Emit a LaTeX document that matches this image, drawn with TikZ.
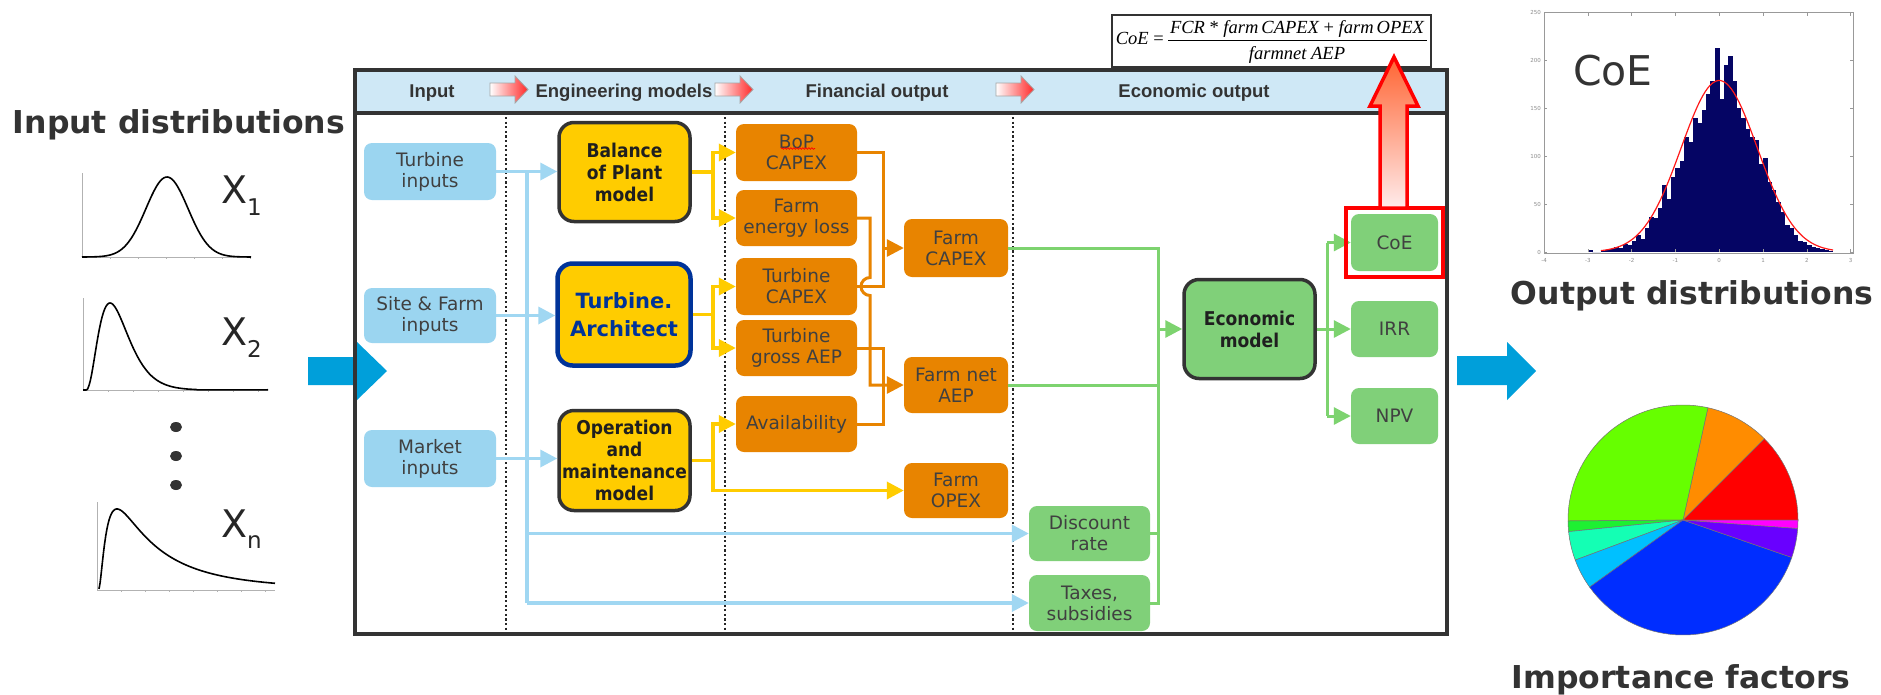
\documentclass[tikz,border=0pt]{standalone}
\usepackage{fontspec}
\setmainfont{DejaVu Sans}
\newfontfamily\modf{DejaVu Sans}[FakeStretch=0.9]
\newfontfamily\hdrf{Liberation Sans}
\newfontfamily\tms{Liberation Serif}
\usetikzlibrary{arrows.meta,calc,decorations.pathmorphing}
\definecolor{lbl}{RGB}{155,213,240}
\definecolor{lblL}{RGB}{160,215,242}
\definecolor{hdr}{RGB}{207,232,246}
\definecolor{yel}{RGB}{255,204,0}
\definecolor{org}{RGB}{232,132,0}
\definecolor{grn}{RGB}{128,208,121}
\definecolor{grnL}{RGB}{125,211,111}
\definecolor{navyb}{RGB}{0,51,153}
\definecolor{bigblue}{RGB}{0,159,218}
\definecolor{dgray}{RGB}{51,51,51}
\definecolor{txt}{RGB}{64,64,64}
\definecolor{histc}{RGB}{5,5,100}
\begin{document}
\begin{tikzpicture}[x=1pt,y=-1pt,
  tip/.tip={Triangle[length=17pt,width=17pt]},
  ibox/.style={fill=lbl, rounded corners=8pt, minimum width=132pt, minimum height=57pt, inner sep=0pt, align=center, text=txt, font=\fontsize{18.5}{21}\selectfont},
  mbox/.style={fill=yel, draw=dgray, line width=3.5pt, rounded corners=15pt, minimum width=131pt, minimum height=99pt, inner sep=0pt, align=center, text=black!88, font=\modf\bfseries\fontsize{19}{22}\selectfont},
  obox/.style={fill=org, rounded corners=8pt, minimum width=121pt, minimum height=56pt, inner sep=0pt, align=center, text=txt, font=\fontsize{18.5}{21}\selectfont},
  gbox/.style={fill=grn, rounded corners=8pt, minimum width=121pt, minimum height=56pt, inner sep=0pt, align=center, text=txt, font=\fontsize{18.5}{21}\selectfont},
  bl/.style={draw=lblL, line width=3.5pt},
  yl/.style={draw=yel, line width=3.5pt},
  ol/.style={draw=org, line width=3pt},
  gl/.style={draw=grnL, line width=3pt},
  dotline/.style={black!85, line width=2.2pt, dash pattern=on 2.2pt off 2.4pt},
  hdrtxt/.style={anchor=base, inner sep=0pt, text=dgray, font=\hdrf\bfseries\fontsize{18.5}{20}\selectfont},
  bigtxt/.style={anchor=base, inner sep=0pt, text=dgray, font=\bfseries\fontsize{31.5}{34}\selectfont},
  hdrarrow/.style={draw=gray!70, line width=0.8pt, left color=white, right color={rgb,255:red,255;green,40;blue,40}},
  curve/.style={black, line width=1.6pt},
  axis/.style={gray!60, line width=1pt}
]
\fill[white] (0,0) rectangle (1881,694);
\useasboundingbox (0,0) rectangle (1881,694);

% ---------- left: input distributions ----------
\node[bigtxt] (indist) at (179,133) {Input distributions};
\draw[axis] (82,173) -- (82,257) -- (251,257);
\foreach \t in {110,138,166,194,222,250} \draw[axis,line width=0.6pt] (\t,257) -- (\t,259);
\draw[curve] plot[domain=82:251, samples=100] ({\x},{257-80*exp(-((\x-167)^2)/882)});
\node[anchor=base west, inner sep=0pt, text=black!85] (x1) at (221,203) {\fontsize{38}{38}\selectfont X\raisebox{-12pt}{\fontsize{23}{23}\selectfont 1}};

\draw[axis] (83,298) -- (83,390) -- (268,390);
\foreach \t in {108,133,158,183,208,233,258} \draw[axis,line width=0.6pt] (\t,390) -- (\t,392);
\draw[curve] (83,390) -- (86.5,390) plot[domain=0.5:182, samples=140] ({86+\x},{390-87*((\x/24)^2.5)*exp(-(\x-24)/9.6)});
\node[anchor=base west, inner sep=0pt, text=black!85] (x2) at (221,345) {\fontsize{38}{38}\selectfont X\raisebox{-12pt}{\fontsize{23}{23}\selectfont 2}};

\fill[dgray] (176,427) ellipse [x radius=6, y radius=5];
\fill[dgray] (176,456) ellipse [x radius=6, y radius=5];
\fill[dgray] (176,485) ellipse [x radius=6, y radius=5];

\draw[axis] (97,502) -- (97,590) -- (275,590);
\foreach \t in {121,145,169,193,217,241,265} \draw[axis,line width=0.6pt] (\t,590) -- (\t,592);
\draw[curve] plot[domain=1:177, samples=160] ({98+\x},{590-81*19/\x*exp(0.5-((ln(\x)-3.944)^2)/2)});
\node[anchor=base west, inner sep=0pt, text=black!85] (xn) at (221,537) {\fontsize{38}{38}\selectfont X\raisebox{-11pt}{\fontsize{23}{23}\selectfont n}};

% big blue arrows
\fill[bigblue] (308,357) -- (357,357) -- (357,342) -- (387,371) -- (357,400) -- (357,385) -- (308,385) -- cycle;
\fill[bigblue] (1457,356) -- (1507,356) -- (1507,342) -- (1536,371) -- (1507,400) -- (1507,385) -- (1457,385) -- cycle;

% ---------- frame and header ----------
\fill[hdr] (355,70) rectangle (1447,113);
\draw[dgray, line width=3.5pt] (355,70) rectangle (1447,634);
\draw[dgray, line width=3.5pt] (355,113) -- (1447,113);
\node[hdrtxt] (hin) at (432,97) {Input};
\node[hdrtxt] (heng) at (624,97) {Engineering models};
\node[hdrtxt] (hfin) at (877,97) {Financial output};
\node[hdrtxt] (heco) at (1194,97) {Economic output};
\foreach \x in {490,715,996}
  \draw[hdrarrow] (\x,83) -- (\x+25,83) -- (\x+25,76) -- (\x+38,89.5) -- (\x+25,103) -- (\x+25,96) -- (\x,96) -- cycle;

\draw[dotline] (506,117) -- (506,632);
\draw[dotline] (725,117) -- (725,632);
\draw[dotline] (1013,117) -- (1013,632);

% ---------- boxes ----------
\node[ibox] (tin) at (430,171.5) {Turbine\\inputs};
\node[ibox, minimum height=55pt] (sfin) at (430,315.5) {Site \& Farm\\inputs};
\node[ibox] (min) at (430,458.5) {Market\\inputs};

\node[mbox] (bop) at (624.5,172) {Balance\\of Plant\\model};
\node[mbox, draw=navyb, line width=4.5pt, minimum width=133pt, minimum height=102pt, text=navyb, font=\bfseries\fontsize{21}{28}\selectfont] (ta) at (624,314.5) {Turbine.\\Architect};
\node[mbox, minimum height=100pt] (om) at (624.5,460.5) {Operation\\and\\maintenance\\model};

\node[obox, minimum height=57pt] (bopc) at (796.5,152.5) {BoP\\CAPEX};
\node[obox] (fel) at (796.5,218) {Farm\\energy loss};
\node[obox, minimum height=57pt] (tc) at (796.5,286.5) {Turbine\\CAPEX};
\node[obox] (tg) at (796.5,348) {Turbine\\gross AEP};
\node[obox] (av) at (796.5,424) {Availability};
\node[obox, minimum width=104pt, minimum height=58pt] (fc) at (956,248) {Farm\\CAPEX};
\node[obox, minimum width=104pt] (fn) at (956,385) {Farm net\\AEP};
\node[obox, minimum width=104pt, minimum height=55pt] (fo) at (956,490.5) {Farm\\OPEX};
\draw[red, line width=0.7pt, decorate, decoration={snake, amplitude=0.8pt, segment length=3pt}] (781,148.5) -- (815,148.5);

\node[gbox, minimum height=55pt] (dr) at (1089.5,533.5) {Discount\\rate};
\node[gbox] (tx) at (1089.5,603) {Taxes,\\subsidies};
\node[mbox, fill=grn, minimum height=99pt] (em) at (1249.5,329) {Economic\\model};
\node[gbox, minimum width=87pt, minimum height=57pt] (coe) at (1394.5,242.5) {CoE};
\node[gbox, minimum width=87pt] (irr) at (1394.5,329) {IRR};
\node[gbox, minimum width=87pt] (npv) at (1394.5,416) {NPV};

% ---------- connectors ----------
\coordinate (bbus) at (527,0);
\draw[bl] (tin.east -| bbus) -- (tx.west -| bbus);
\draw[bl,-tip] (tin.east) -- (tin.east -| bop.west);
\draw[bl,-tip] (sfin.east) -- (sfin.east -| ta.west);
\draw[bl,-tip] (min.east) -- (min.east -| om.west);
\draw[bl,-tip] (dr.west -| bbus) -- (dr.west);
\draw[bl,-tip] (tx.west -| bbus) -- (tx.west);

\coordinate (ybus) at (713,0);
\draw[yl] (bop.east) -- (bop.east -| ybus);
\draw[yl,-tip] (fel.west -| ybus) -- (bopc.west -| ybus) -- (bopc.west);
\draw[yl,-tip] (bopc.west -| ybus) -- (fel.west -| ybus) -- (fel.west);
\draw[yl] (ta.east) -- (ta.east -| ybus);
\draw[yl,-tip] (tg.west -| ybus) -- (tc.west -| ybus) -- (tc.west);
\draw[yl,-tip] (tc.west -| ybus) -- (tg.west -| ybus) -- (tg.west);
\draw[yl] (om.east) -- (om.east -| ybus);
\draw[yl,-tip] (fo.west -| ybus) -- (av.west -| ybus) -- (av.west);
\draw[yl,-tip] (av.west -| ybus) -- (fo.west -| ybus) -- (fo.west);

\coordinate (obus) at (883,0);
\coordinate (obus2) at (870,0);
\draw[ol] (bopc.east) -- (bopc.east -| obus) -- (tc.east -| obus) -- (tc.east);
\draw[ol,-tip] (fc.west -| obus) -- (fc.west);
\draw[ol,-tip] (fel.east) -- (fel.east -| obus2) -- ($(tc.east -| obus2)+(0,-9)$) arc[start angle=-90, end angle=-270, radius=9] -- (fn.west -| obus2) -- (fn.west);
\draw[ol] (tg.east) -- (tg.east -| obus) -- (av.east -| obus) -- (av.east);

\coordinate (gbus) at (1158,0);
\draw[gl] (fc.east) -- (fc.east -| gbus) -- (tx.east -| gbus) -- (tx.east);
\draw[gl] (fn.east) -- (fn.east -| gbus);
\draw[gl] (dr.east) -- (dr.east -| gbus);
\draw[gl,-tip] (em.west -| gbus) -- (em.west);
\coordinate (gbus2) at (1327,0);
\draw[gl] (em.east) -- (em.east -| gbus2);
\draw[gl] (coe.west -| gbus2) -- (npv.west -| gbus2);
\draw[gl,-tip] (coe.west -| gbus2) -- (coe.west);
\draw[gl,-tip] (irr.west -| gbus2) -- (irr.west);
\draw[gl,-tip] (npv.west -| gbus2) -- (npv.west);

% ---------- formula ----------
\node[draw=dgray, line width=2.5pt, fill=white, minimum width=319pt, minimum height=52pt, inner sep=0pt] (fbox) at (1271.5,41) {};
\node[anchor=base east, inner sep=0pt, font=\tms\fontsize{18.5}{20}\selectfont] (flhs) at (1164,44) {\itshape CoE \upshape=};
\draw[black, line width=0.8pt] (flhs.east |- 0,40) ++(4,0) -- (1427,40);
\node[anchor=base, inner sep=0pt, font=\tms\itshape\fontsize{18.5}{20}\selectfont] (fnum) at (1297,33) {FCR {\upshape *} farm\,CAPEX {\upshape +} farm\,OPEX};
\node[anchor=base, inner sep=0pt, font=\tms\itshape\fontsize{18.5}{20}\selectfont] (fden) at (1297,59) {farmnet AEP};

% red highlight and arrow
\draw[red, line width=3.5pt] (1346,208) rectangle (1443,277);
\draw[red, line width=3.5pt, line join=miter, top color={rgb,255:red,255;green,100;blue,50}, bottom color={rgb,255:red,255;green,236;blue,236}]
  (1380,208) -- (1380,106) -- (1370,106) -- (1394,57) -- (1418,106) -- (1407,106) -- (1407,208) -- cycle;

% ---------- histogram ----------
\draw[gray!80, line width=1pt] (1544,12) rectangle (1853,253);
\foreach \h [count=\i from 0] in {2,0,0,1,2,3,5,4,8,7,12,18,14,25,37,35,46,70,55,78,88,95,120,115,140,135,148,165,178,213,160,195,205,178,150,140,128,120,117,92,98,73,65,52,42,28,25,18,12,10,7,5,4,3,2,1}
  \fill[histc] ({1587.8+4.38*\i},252) rectangle ({1592.5+4.38*\i},{252-0.958*\h});
\draw[red!90, line width=1.2pt] plot[domain=-2.7:2.6, samples=90] ({1544+(\x+4)*43.8},{252-171.5*exp(-(\x)^2/1.514)});
\foreach \v/\l in {0/-4,1/-3,2/-2,3/-1,4/0,5/1,6/2,7/3} {
  \draw[gray!80, line width=0.6pt] ({1544+\v*43.8},252) -- ({1544+\v*43.8},249);
  \draw[gray!80, line width=0.6pt] ({1544+\v*43.8},13) -- ({1544+\v*43.8},16);
  \node[text=gray!90, font=\fontsize{5.5}{6}\selectfont, inner sep=0pt] at ({1544+\v*43.8},260) {\l};
}
\foreach \v in {0,50,100,150,200,250} {
  \draw[gray!80, line width=0.6pt] (1544,{252-0.958*\v}) -- (1547,{252-0.958*\v});
  \draw[gray!80, line width=0.6pt] (1853,{252-0.958*\v}) -- (1850,{252-0.958*\v});
  \node[text=gray!90, font=\fontsize{5.5}{6}\selectfont, inner sep=0pt, anchor=east] at (1541,{252-0.958*\v}) {\v};
}
\node[anchor=base west, inner sep=0pt, text=dgray, font=\fontsize{41}{41}\selectfont] (hcoe) at (1573,85) {CoE};
\node[bigtxt] (outdist) at (1692,304) {Output distributions};

% ---------- pie ----------
\begin{scope}[draw=black!55, line width=0.5pt]
\filldraw[fill={rgb,255:red,255;green,0;blue,0}] (1683,520) -- ++(0:115) arc[start angle=0, end angle=-45, radius=115] -- cycle;
\filldraw[fill={rgb,255:red,255;green,140;blue,0}] (1683,520) -- ++(-45:115) arc[start angle=-45, end angle=-77.5, radius=115] -- cycle;
\filldraw[fill={rgb,255:red,102;green,255;blue,0}] (1683,520) -- ++(-77.5:115) arc[start angle=-77.5, end angle=-180.5, radius=115] -- cycle;
\filldraw[fill={rgb,255:red,30;green,240;blue,50}] (1683,520) -- ++(-180.5:115) arc[start angle=-180.5, end angle=-185.8, radius=115] -- cycle;
\filldraw[fill={rgb,255:red,20;green,255;blue,180}] (1683,520) -- ++(-185.8:115) arc[start angle=-185.8, end angle=-200.4, radius=115] -- cycle;
\filldraw[fill={rgb,255:red,0;green,192;blue,255}] (1683,520) -- ++(-200.4:115) arc[start angle=-200.4, end angle=-215.7, radius=115] -- cycle;
\filldraw[fill={rgb,255:red,0;green,45;blue,255}] (1683,520) -- ++(-215.7:115) arc[start angle=-215.7, end angle=-341, radius=115] -- cycle;
\filldraw[fill={rgb,255:red,105;green,0;blue,255}] (1683,520) -- ++(-341:115) arc[start angle=-341, end angle=-355.8, radius=115] -- cycle;
\filldraw[fill={rgb,255:red,255;green,0;blue,255}] (1683,520) -- ++(-355.8:115) arc[start angle=-355.8, end angle=-360, radius=115] -- cycle;
\end{scope}
\node[bigtxt] (impf) at (1681,688) {Importance factors};
\end{tikzpicture}
\end{document}
